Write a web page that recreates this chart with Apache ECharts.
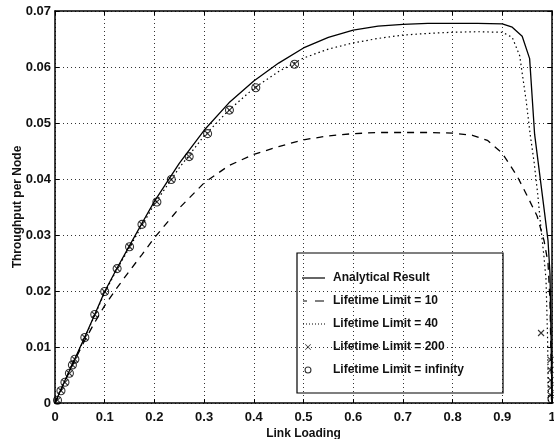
<!DOCTYPE html>
<html><head><meta charset="utf-8">
<script src="https://cdn.jsdelivr.net/npm/echarts@6/dist/echarts.min.js"></script>
<style>html,body{margin:0;padding:0;background:#fff}#c{width:554px;height:439px}</style>
</head><body><div id="c"></div>
<script>
// ---- data ----
const xTickLabels = ["0","0.1","0.2","0.3","0.4","0.5","0.6","0.7","0.8","0.9","1"];
const yTickLabels = ["0","0.01","0.02","0.03","0.04","0.05","0.06","0.07"];
const seriesNames = ["Analytical Result","Lifetime Limit = 10","Lifetime Limit = 40","Lifetime Limit = 200","Lifetime Limit = infinity"];

const analyticalX = [0,0.02,0.04,0.06,0.08,0.1,0.125,0.15,0.175,0.2,0.25,0.3,0.35,0.4,0.45,0.5,0.55,0.6,0.65,0.7,0.75,0.8,0.85,0.9,0.92,0.94,0.955,0.965,0.975,0.985,0.992,0.996,0.998,1.0];
const analyticalY = [0,0.0040,0.0079,0.0118,0.0158,0.0199,0.0241,0.0281,0.0321,0.0360,0.0428,0.0487,0.0536,0.0575,0.0607,0.0634,0.0653,0.0666,0.0673,0.0676,0.0678,0.0678,0.0678,0.0677,0.0671,0.0655,0.0615,0.0480,0.0410,0.0340,0.0290,0.0230,0.0120,0];

const limit10X = [0,0.02,0.04,0.06,0.08,0.1,0.125,0.15,0.175,0.2,0.25,0.3,0.35,0.4,0.45,0.5,0.55,0.6,0.65,0.7,0.75,0.8,0.84,0.87,0.9,0.93,0.95,0.97,0.984,0.992,0.996,0.998,0.999];
const limit10Y = [0,0.0039,0.0077,0.0112,0.0144,0.0174,0.0206,0.0236,0.0265,0.0295,0.0348,0.0393,0.0424,0.0444,0.0458,0.0470,0.0477,0.0481,0.0483,0.0483,0.0483,0.0482,0.0478,0.0469,0.0446,0.0405,0.0370,0.0334,0.0290,0.0250,0.0180,0.0080,0];

const limit40X = [0,0.02,0.04,0.06,0.08,0.1,0.125,0.15,0.175,0.2,0.25,0.3,0.35,0.4,0.45,0.5,0.55,0.6,0.65,0.7,0.75,0.8,0.85,0.9,0.92,0.935,0.948,0.956,0.964,0.971,0.978,0.984,0.988,0.991,0.993];
const limit40Y = [0,0.0039,0.0078,0.0117,0.0157,0.0197,0.0239,0.0278,0.0317,0.0355,0.0420,0.0477,0.0523,0.0562,0.0592,0.0616,0.0632,0.0643,0.0651,0.0657,0.0660,0.0662,0.0663,0.0662,0.0653,0.0620,0.0540,0.0480,0.0430,0.0375,0.0310,0.0260,0.0220,0.0120,0];

const limit200X = [0.005,0.012,0.02,0.029,0.035,0.04,0.06,0.08,0.1,0.125,0.15,0.175,0.205,0.234,0.27,0.307,0.351,0.404,0.482,0.978,0.997,0.997,0.997,0.997,0.997];
const limit200Y = [0.0005,0.0022,0.0037,0.0053,0.0068,0.0078,0.0117,0.0158,0.0199,0.0240,0.0279,0.0319,0.0359,0.0399,0.0440,0.0481,0.0523,0.0563,0.0605,0.0125,0.0077,0.0059,0.0041,0.0027,0.0014];

const infinityX = [0.005,0.012,0.02,0.029,0.035,0.04,0.06,0.08,0.1,0.125,0.15,0.175,0.205,0.234,0.27,0.307,0.351,0.404,0.482,1.0];
const infinityY = [0.0005,0.0022,0.0037,0.0053,0.0068,0.0078,0.0117,0.0158,0.0199,0.0240,0.0279,0.0319,0.0359,0.0399,0.0440,0.0481,0.0523,0.0563,0.0605,0.0007];

function pairs(xs, ys){ return xs.map((x,i)=>[x, ys[i]]); }

const FONT = "'Liberation Sans', Arial, Helvetica, sans-serif";
const chart = echarts.init(document.getElementById('c'), null, {renderer:'canvas'});
const gridLine = {show:true, lineStyle:{type:[1,3], color:'#333', width:1}};
const crossPath = 'path://M0,0L10,10M10,0L0,10';
// legend icons, all filled shapes inside the same 26x14 icon box (sample drawn in the left 23px)
const BOX = 'M0,0M26,14';
const legendSolid = 'path://' + BOX + 'M0,6.4L23,6.4L23,7.6L0,7.6Z';
const legendDash = 'path://' + BOX + 'M1,6.4L5,6.4L5,7.6L1,7.6ZM13,6.4L22,6.4L22,7.6L13,7.6Z';
let dots = '';
for (let i = 1; i < 23; i += 3) dots += 'M' + i + ',6.5L' + (i + 1) + ',6.5L' + (i + 1) + ',7.5L' + i + ',7.5Z';
const legendDot = 'path://' + BOX + dots;
const legendCross = 'path://' + BOX + 'M3.5,4L9,9.5L8.5,10L3,4.5ZM8.5,4L9,4.5L3.5,10L3,9.5Z';
const legendCircle = 'path://' + BOX + 'M9.5,7A3.5,3.5 0 1 1 2.5,7A3.5,3.5 0 1 1 9.5,7ZM8.4,7A2.4,2.4 0 1 0 3.6,7A2.4,2.4 0 1 0 8.4,7Z';
const filledIcon = {color:'#000', borderColor:'none', borderWidth:0};

chart.setOption({
  animation:false,
  backgroundColor:'#fff',
  grid:{left:55, right:2, top:11, bottom:36, show:false, containLabel:false, outerBoundsMode:'none'},
  xAxis:[{
    type:'value', min:0, max:1, interval:0.1, position:'bottom',
    name:'Link Loading', nameLocation:'middle', nameGap:25, nameMoveOverlap:false,
    nameTextStyle:{fontFamily:FONT, fontSize:12, fontWeight:'bold', color:'#111'},
    axisLine:{show:true, onZero:false, lineStyle:{color:'#000', width:1.5}},
    axisTick:{show:true, inside:true, length:4, lineStyle:{color:'#000'}},
    axisLabel:{fontFamily:FONT, fontSize:13, fontWeight:'bold', color:'#111', margin:8,
      formatter:(v)=>xTickLabels[Math.round(v*10)]},
    splitLine:gridLine
  },{
    type:'value', min:0, max:1, interval:0.1, position:'top',
    axisLine:{show:true, onZero:false, lineStyle:{color:'#000', width:1.5}},
    axisTick:{show:true, inside:true, length:4, lineStyle:{color:'#000'}},
    axisLabel:{show:false}, splitLine:{show:false}
  }],
  yAxis:[{
    type:'value', min:0, max:0.07, interval:0.01, position:'left',
    name:'Throughput per Node', nameLocation:'middle', nameGap:31, nameMoveOverlap:false,
    nameTextStyle:{fontFamily:FONT, fontSize:12, fontWeight:'bold', color:'#111'},
    axisLine:{show:true, onZero:false, lineStyle:{color:'#000', width:1.5}},
    axisTick:{show:true, inside:true, length:4, lineStyle:{color:'#000'}},
    axisLabel:{fontFamily:FONT, fontSize:13, fontWeight:'bold', color:'#111', margin:4,
      formatter:(v)=>yTickLabels[Math.round(v*100)]},
    splitLine:gridLine
  },{
    type:'value', min:0, max:0.07, interval:0.01, position:'right',
    axisLine:{show:true, onZero:false, lineStyle:{color:'#000', width:1.5}},
    axisTick:{show:true, inside:true, length:4, lineStyle:{color:'#000'}},
    axisLabel:{show:false}, splitLine:{show:false}
  }],
  legend:{
    orient:'vertical', left:297, top:253,
    backgroundColor:'transparent', borderColor:'#000', borderWidth:1.2,
    padding:[18,39,16,5], itemGap:9, itemWidth:26, itemHeight:14,
    textStyle:{fontFamily:FONT, fontSize:12, fontWeight:'bold', color:'#111'},
    data:[
      {name:seriesNames[0], icon:legendSolid},
      {name:seriesNames[1], icon:legendDash},
      {name:seriesNames[2], icon:legendDot},
      {name:seriesNames[3], icon:legendCross, itemStyle:filledIcon},
      {name:seriesNames[4], icon:legendCircle, itemStyle:filledIcon}
    ]
  },
  series:[
    {name:seriesNames[0], type:'line', data:pairs(analyticalX, analyticalY), showSymbol:false, symbol:'none',
     lineStyle:{color:'#000', width:1.3, type:'solid'}, itemStyle:{color:'#000'}, z:3},
    {name:seriesNames[1], type:'line', data:pairs(limit10X, limit10Y), showSymbol:false, symbol:'none',
     lineStyle:{color:'#000', width:1.3, type:[7,6]}, itemStyle:{color:'#000'}, z:3},
    {name:seriesNames[2], type:'line', data:pairs(limit40X, limit40Y), showSymbol:false, symbol:'none',
     lineStyle:{color:'#000', width:1.2, type:[1.5,3]}, itemStyle:{color:'#000'}, z:3},
    {name:seriesNames[3], type:'scatter', data:pairs(limit200X, limit200Y), symbol:crossPath, symbolSize:6,
     itemStyle:{color:'none', borderColor:'#000', borderWidth:1.1}, z:4},
    {name:seriesNames[4], type:'scatter', data:pairs(infinityX, infinityY), symbol:'circle', symbolSize:8,
     itemStyle:{color:'none', borderColor:'#000', borderWidth:1.1}, z:4}
  ]
});
</script></body></html>
